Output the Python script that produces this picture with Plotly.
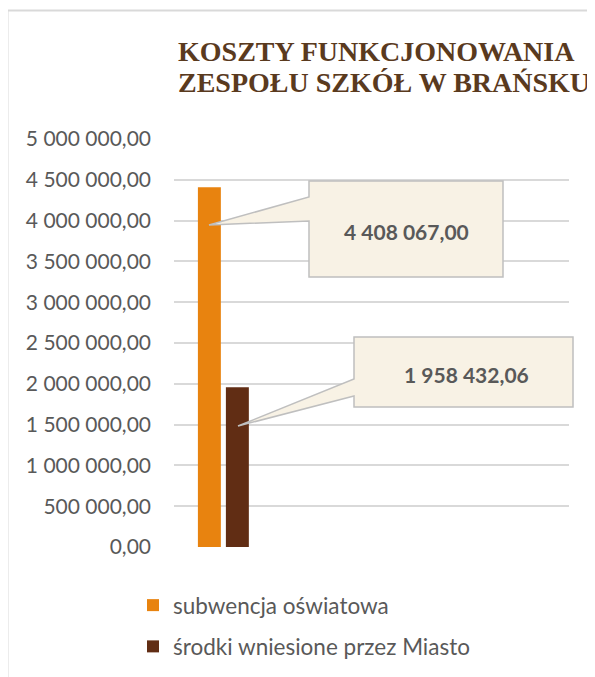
import plotly.graph_objects as go

# ---------------- data ----------------
series_names = ["subwencja oświatowa", "środki wniesione przez Miasto"]
series_values = [4408067.00, 1958432.06]
series_colors = ["#E8830F", "#612D14"]
categories = [0]
tick_values = [0, 500000, 1000000, 1500000, 2000000, 2500000, 3000000,
               3500000, 4000000, 4500000, 5000000]
tick_labels = ["0,00", "500 000,00", "1 000 000,00", "1 500 000,00",
               "2 000 000,00", "2 500 000,00", "3 000 000,00", "3 500 000,00",
               "4 000 000,00", "4 500 000,00", "5 000 000,00"]
title_lines = ["KOSZTY FUNKCJONOWANIA", "ZESPOŁU SZKÓŁ W BRAŃSKU"]


def fmt_pl(v):
    return f"{v:,.2f}".replace(",", " ").replace(".", ",")


# ---------------- layout geometry (window pixels) ----------------
BODY = 8                      # default page margin around the plot div
W, H = 595 - BODY, 677 - BODY
PL, PR, PT, PB = 174, 569, 139, 547


def px(x):
    return (x - PL) / (PR - PL)


def py(y):
    return (PB - y) / (PB - PT)


fig = go.Figure()
for name, val, col in zip(series_names, series_values, series_colors):
    fig.add_trace(go.Bar(
        x=categories, y=[val], name=name, marker_color=col,
        marker_line_width=0, legendgroup=name, hoverinfo="skip"))

# callouts: (box left, right, top, bottom, pointer base top, base bottom, tip x, tip y, text cx, cy)
callouts = [
    (309, 503, 181, 277, 197, 221, 209, 225, 406, 231),
    (354, 573, 337, 407, 379, 396, 238, 426, 466, 374),
]
shapes = []
annotations = []
for (L, R, T, B, b1, b2, tx, ty, cx, cy), val in zip(callouts, series_values):
    pts = [(L, T), (R, T), (R, B), (L, B), (L, b2), (tx, ty), (L, b1)]
    path = "M " + " L ".join(f"{px(a):.5f},{py(b):.5f}" for a, b in pts) + " Z"
    shapes.append(dict(type="path", xref="paper", yref="paper", path=path,
                       fillcolor="#F8F2E5", line=dict(color="#BFBFBF", width=1.5),
                       layer="above"))
    annotations.append(dict(xref="paper", yref="paper", x=px(cx), y=py(cy),
                            text="<b>" + fmt_pl(val) + "</b>", showarrow=False,
                            xanchor="center", yanchor="middle",
                            font=dict(family="Lato", size=21, color="#595959")))

# chart border (top & left visible)
shapes.append(dict(type="line", xref="paper", yref="paper",
                   x0=px(7.5), x1=px(600), y0=py(10.5), y1=py(10.5),
                   line=dict(color="#D9D9D9", width=2)))
shapes.append(dict(type="line", xref="paper", yref="paper",
                   x0=px(7.5), x1=px(7.5), y0=py(10.5), y1=py(690),
                   line=dict(color="#D9D9D9", width=2)))

# title lines
for line, ycap in zip(title_lines, [51, 82]):
    annotations.append(dict(xref="paper", yref="paper", x=px(176), y=py(ycap),
                            text="<b>" + line + "</b>", showarrow=False,
                            xanchor="left", yanchor="middle",
                            font=dict(family="Liberation Serif", size=28,
                                      color="#5A3A1E")))

fig.update_layout(
    width=W, height=H, autosize=False,
    margin=dict(l=PL - BODY, r=W - (PR - BODY), t=PT - BODY, b=H - (PB - BODY),
                pad=0, autoexpand=False),
    paper_bgcolor="white", plot_bgcolor="white",
    barmode="group", bargap=0.433, bargroupgap=0.18,
    xaxis=dict(range=[-0.5, 3.5], visible=False, showgrid=False, zeroline=False),
    yaxis=dict(range=[0, 5000000], tickvals=tick_values, ticktext=tick_labels,
               showgrid=True, gridcolor="#D9D9D9", gridwidth=1.5,
               zeroline=False, showline=False, ticks="",
               ticklabelstandoff=22,
               tickfont=dict(family="Lato", size=21, color="#595959")),
    legend=dict(orientation="v", x=px(133), y=py(584), xanchor="left",
                yanchor="top", traceorder="grouped", tracegroupgap=9,
                font=dict(family="Lato", size=22.5, color="#595959"),
                bgcolor="rgba(0,0,0,0)"),
    shapes=shapes, annotations=annotations,
    font=dict(family="Lato"),
)

fig.write_html("out.html")
